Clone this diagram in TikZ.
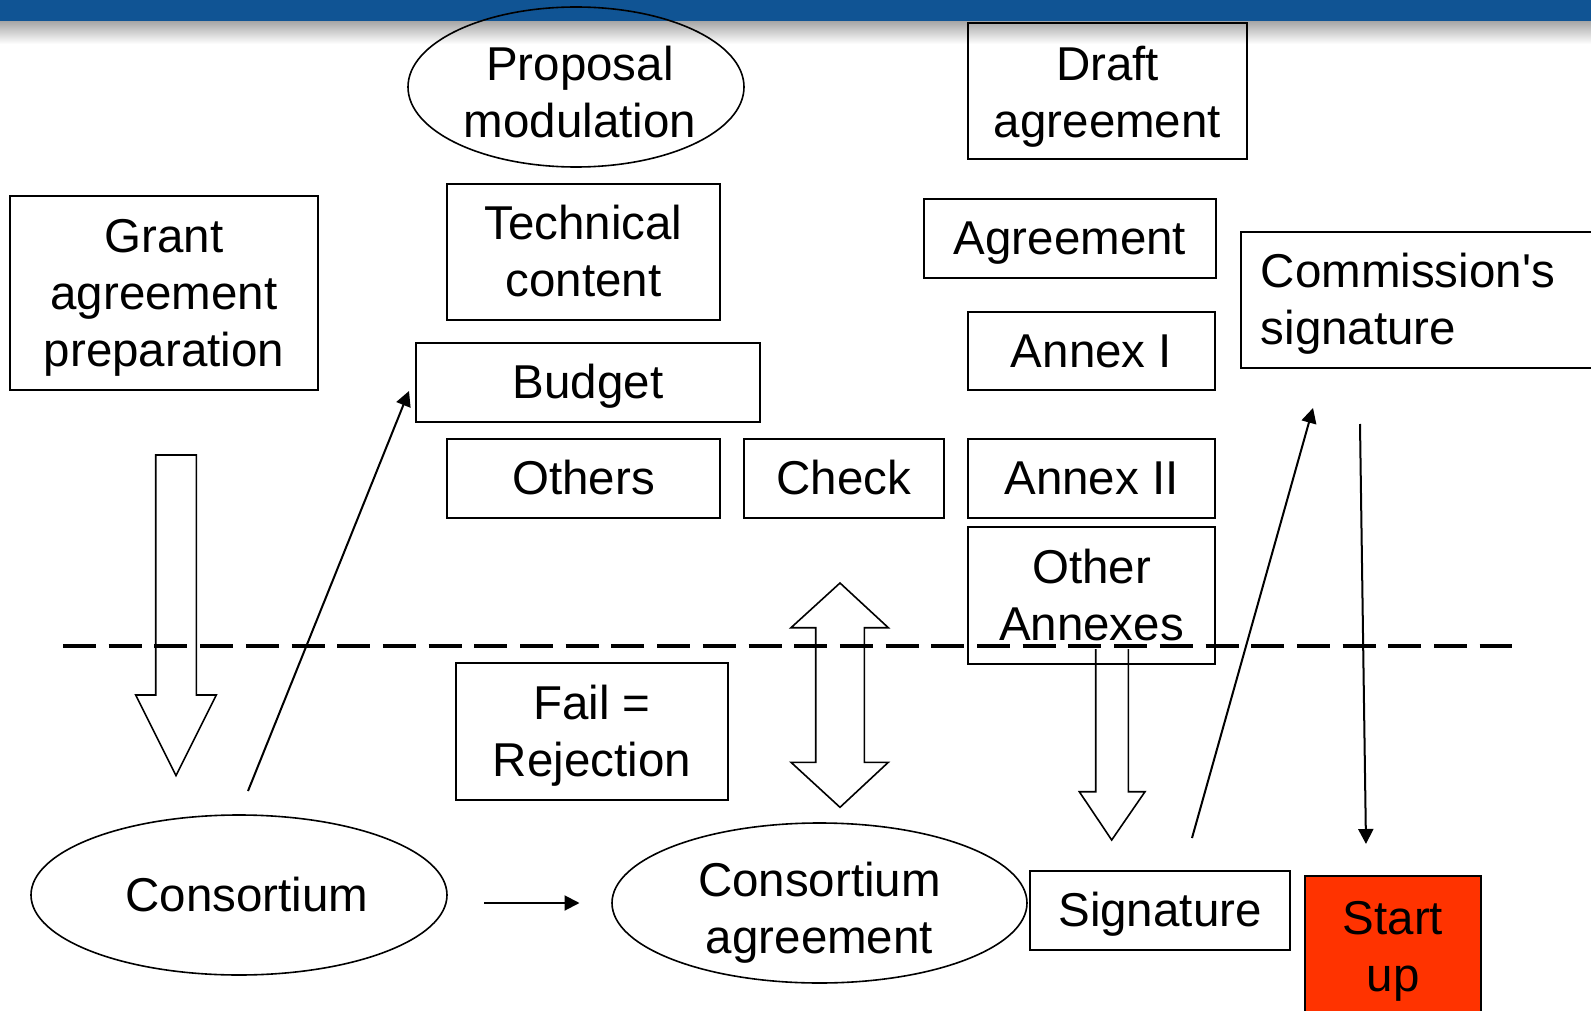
\documentclass[tikz,border=0pt]{standalone}
\usepackage{fontspec}
\setmainfont{Liberation Sans}
\usetikzlibrary{shapes.geometric,arrows.meta}
\definecolor{barblue}{RGB}{16,84,148}
\definecolor{startred}{RGB}{255,51,0}
\newcommand\ls{\rule[-0.212em]{0pt}{1.117em}}
\begin{document}
\begin{tikzpicture}[x=0.5pt,y=-0.5pt,
  every node/.style={font=\fontsize{23.75}{28.5}\selectfont, align=center, inner sep=0pt},
  box/.style={draw, line width=0.8pt, rectangle},
  oval/.style={draw, line width=0.8pt, ellipse},
  link/.style={line width=1pt, -{Triangle[length=7.5pt,width=7.5pt]}},
  blockarrow/.style={draw, line width=0.8pt, line join=miter},
  separator/.style={line width=2pt, dash pattern=on 16.5pt off 6.35pt}
]
\useasboundingbox (0,0) rectangle (1591,1011);
\clip (0,0) rectangle (1591,1011);
\fill[white] (0,0) rectangle (1591,1011);
% top bar
\shade[top color=black!35, bottom color=white] (0,21) rectangle (1591,44);
\fill[barblue] (0,0) rectangle (1591,21);

% nodes
\node[box, minimum width=154pt, minimum height=97pt] (grant) at (164,293) {\ls Grant\\agreement\\preparation\ls};
\node[oval, minimum width=168pt, minimum height=80pt] (proposal) at (576,87) {};
\node at (580,93) {\ls Proposal\\modulation\ls};
\node[box, minimum width=136.5pt, minimum height=68pt] (technical) at (583.5,252) {\ls Technical\\content\ls};
\node[box, minimum width=172pt, minimum height=39.5pt] (budget) at (588,382.5) {\ls Budget};
\node[box, minimum width=136.5pt, minimum height=39.5pt] (others) at (583.5,478.5) {\ls Others};
\node[box, minimum width=100pt, minimum height=39.5pt] (check) at (844,478.5) {\ls Check};
\node[box, minimum width=139.5pt, minimum height=68pt] (draft) at (1107.5,91) {};
\node at (1107.5,93) {\ls Draft\\agreement\ls};
\node[box, minimum width=146pt, minimum height=39.5pt] (agreement) at (1070,238.5) {\ls Agreement};
\node[box, minimum width=123.5pt, minimum height=39pt] (annexone) at (1091.5,351) {\ls Annex I};
\node[box, minimum width=123.5pt, minimum height=39.5pt] (annextwo) at (1091.5,478.5) {\ls Annex II};
\node[box, minimum width=123.5pt, minimum height=68.5pt] (otherann) at (1091.5,595.5) {\ls Other\\Annexes\ls};
\node[box, anchor=west, text width=170pt, inner xsep=10pt, minimum height=68pt, align=left] (commission) at (1240,300) {\ls Commission\textquotesingle s\\signature\ls};
\node[box, minimum width=136pt, minimum height=68.5pt] (fail) at (592,731.5) {\ls Fail =\\Rejection\ls};
\node[oval, minimum width=208pt, minimum height=80pt] (consortium) at (239,895) {};
\node at (247,895) {\ls Consortium};
\node[oval, minimum width=207.5pt, minimum height=80pt] (consagr) at (819.5,903) {};
\node at (819.5,909) {\ls Consortium\\agreement\ls};
\node[box, minimum width=130pt, minimum height=39.5pt] (signature) at (1160,910.5) {\ls Signature};
\node[box, fill=startred, anchor=north, minimum width=88pt, minimum height=71pt] (startup) at (1393,875) {\ls Start\\up\ls};

% dashed separator
\coordinate (sepL) at (63,646);
\coordinate (sepR) at (1512,646);
\draw[separator] (sepL) -- (sepR);

% block arrow: grant -> consortium
\draw[blockarrow] (155.7,455) -- (196.3,455) -- (196.3,695) -- (216.3,695) -- (176,775.7)
  -- (135.7,695) -- (155.7,695) -- cycle;
% double block arrow: check <-> consortium agreement
\draw[blockarrow] (840,583) -- (888.3,627.7) -- (864.3,627.7) -- (864.3,762.3) -- (888.3,762.3)
  -- (840,807.3) -- (791,762.3) -- (815.7,762.3) -- (815.7,627.7) -- (791,627.7) -- cycle;
% block arrow: other annexes -> signature
\draw[blockarrow] (1095.7,649) -- (1095.7,791.7) -- (1079.3,791.7) -- (1111.7,840)
  -- (1145,791.7) -- (1128.3,791.7) -- (1128.3,649);

% line arrows
\coordinate (consOut) at (248,791);
\coordinate (budgetIn) at (409,391);
\draw[link] (consOut) -- (budgetIn);
\coordinate (consRight) at (484,903);
\coordinate (consagrLeft) at (579.5,903);
\draw[link] (consRight) -- (consagrLeft);
\coordinate (sigOut) at (1192,838);
\coordinate (commIn) at (1313,408);
\draw[link] (sigOut) -- (commIn);
\coordinate (commOut) at (1360,424);
\coordinate (startIn) at (1366,844);
\draw[link] (commOut) -- (startIn);
\end{tikzpicture}
\end{document}
